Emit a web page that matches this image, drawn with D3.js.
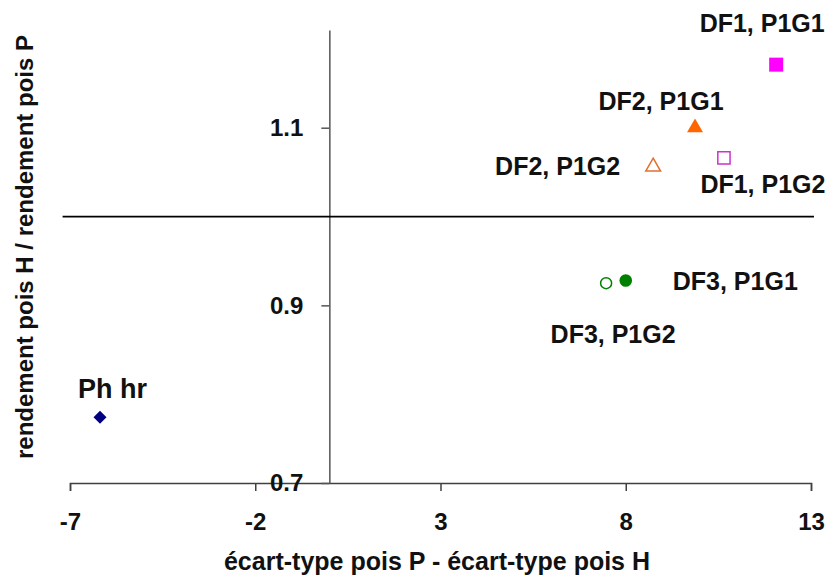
<!DOCTYPE html>
<html>
<head>
<meta charset="utf-8">
<script src="https://cdn.jsdelivr.net/npm/d3@7"></script>
<style>
  body { margin: 0; background: #fff; }
  text { font-family: "Liberation Sans", Arial, sans-serif; fill: #111; }
</style>
</head>
<body>
<div id="chart"></div>
<script>
// Data
const names = ['Ph hr', 'DF1, P1G1', 'DF2, P1G1', 'DF1, P1G2', 'DF2, P1G2', 'DF3, P1G1', 'DF3, P1G2'];
const xValues = [-6.19, 12.06, 9.87, 10.65, 8.74, 8.0, 7.47];
const yValues = [0.774, 1.171, 1.10, 1.066, 1.056, 0.928, 0.925];
const xTicks = [-7, -2, 3, 8, 13];
const yTicks = [0.7, 0.9, 1.1];

// Marker styles and label placement (px offsets from the point)
const markers = [
  {shape: 'diamond', fill: '#000080', stroke: 'none', size: 85},
  {shape: 'square', fill: '#ff00ff', stroke: 'none', size: 196},
  {shape: 'triangle', fill: '#ff6600', stroke: 'none', size: 110},
  {shape: 'square', fill: 'none', stroke: '#cc33cc', size: 150},
  {shape: 'triangle', fill: 'none', stroke: '#e07030', size: 95},
  {shape: 'circle', fill: '#008000', stroke: 'none', size: 125},
  {shape: 'circle', fill: 'none', stroke: '#008000', size: 95}
];
const labels = [
  {dx: -22, dy: -19, anchor: 'start', size: 27, weight: 'bold'},
  {dx: -14, dy: -33, anchor: 'middle', size: 25, weight: 'bold'},
  {dx: -34, dy: -18, anchor: 'middle', size: 25, weight: 'bold'},
  {dx: 39, dy: 35, anchor: 'middle', size: 25, weight: 'bold'},
  {dx: -33, dy: 8, anchor: 'end', size: 25, weight: 'bold'},
  {dx: 47, dy: 10, anchor: 'start', size: 25, weight: 'bold'},
  {dx: 7, dy: 60, anchor: 'middle', size: 25, weight: 'bold'}
];

const width = 835, height = 580;
const svg = d3.select('#chart').append('svg')
  .attr('width', width)
  .attr('height', height);

// Scales
const x = d3.scaleLinear().domain([-7, 13]).range([70, 811]);
const y = d3.scaleLinear().domain([0.7, 1.21]).range([483, 30]);

// X axis (bottom)
const xAxis = svg.append('g')
  .attr('transform', 'translate(0,' + y(0.7) + ')')
  .call(d3.axisBottom(x).tickValues(xTicks).tickSize(8).tickPadding(22).tickFormat(d => String(d)));
xAxis.select('.domain').attr('stroke', '#404040').attr('stroke-width', 1.5);
xAxis.selectAll('.tick line').attr('stroke', '#404040').attr('stroke-width', 1.5);
xAxis.selectAll('text')
  .attr('font-size', 24).attr('font-weight', 'bold').attr('fill', '#111')
  .style('font-family', '"Liberation Sans", Arial, sans-serif');

// Y axis crossing at x = 0
const yAxis = svg.append('g')
  .attr('transform', 'translate(' + x(0) + ',0)')
  .call(d3.axisLeft(y).tickValues(yTicks).tickSize(8).tickSizeOuter(0).tickPadding(18).tickFormat(d3.format('.1f')));
yAxis.select('.domain').attr('stroke', '#555').attr('stroke-width', 1.5);
yAxis.selectAll('.tick line').attr('stroke', '#555').attr('stroke-width', 1.5);
yAxis.selectAll('text')
  .attr('font-size', 24).attr('font-weight', 'bold').attr('fill', '#111')
  .style('font-family', '"Liberation Sans", Arial, sans-serif');

// Reference line at y = 1
svg.append('line')
  .attr('x1', x(-7.2)).attr('x2', x(13.08))
  .attr('y1', y(1)).attr('y2', y(1))
  .attr('stroke', '#000').attr('stroke-width', 1.8);

// Axis titles
svg.append('text')
  .attr('x', 437).attr('y', 570)
  .attr('text-anchor', 'middle')
  .attr('font-size', 25).attr('font-weight', 'bold')
  .text('écart-type pois P - écart-type pois H');

svg.append('text')
  .attr('transform', 'translate(33,247) rotate(-90)')
  .attr('text-anchor', 'middle')
  .attr('font-size', 24).attr('font-weight', 'bold')
  .text('rendement pois H / rendement pois P');

// Points
const shapes = {
  diamond: d3.symbolSquare,
  square: d3.symbolSquare,
  triangle: d3.symbolTriangle,
  circle: d3.symbolCircle
};

const points = names.map((n, i) => ({name: n, x: xValues[i], y: yValues[i], m: markers[i], l: labels[i]}));

svg.append('g')
  .selectAll('path')
  .data(points)
  .enter().append('path')
    .attr('d', d => d3.symbol().type(shapes[d.m.shape]).size(d.m.size)())
    .attr('transform', d => 'translate(' + x(d.x) + ',' + y(d.y) + ')' + (d.m.shape === 'diamond' ? ' rotate(45)' : ''))
    .attr('fill', d => d.m.fill)
    .attr('stroke', d => d.m.stroke)
    .attr('stroke-width', 1.5);

svg.append('g')
  .selectAll('text')
  .data(points)
  .enter().append('text')
    .attr('x', d => x(d.x) + d.l.dx)
    .attr('y', d => y(d.y) + d.l.dy)
    .attr('text-anchor', d => d.l.anchor)
    .attr('font-size', d => d.l.size)
    .attr('font-weight', d => d.l.weight)
    .text(d => d.name);
</script>
</body>
</html>
